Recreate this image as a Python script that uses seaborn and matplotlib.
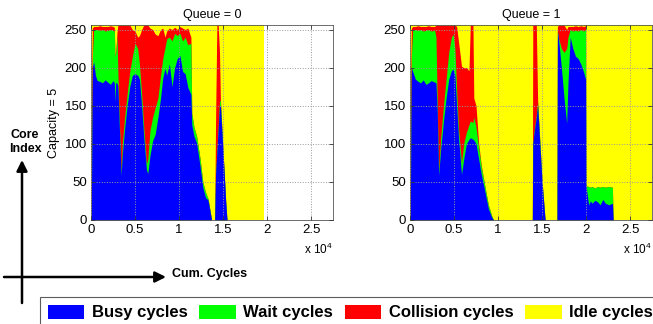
import matplotlib
matplotlib.use("Agg")
import matplotlib.pyplot as plt
from matplotlib.patches import Patch
from matplotlib.ticker import FuncFormatter, MultipleLocator
import numpy as np
import seaborn as sns

sns.set_theme(style="white")
plt.rcParams['font.family'] = ['Liberation Sans', 'DejaVu Sans']
plt.rcParams['mathtext.default'] = 'regular'

CORES = 256
state_labels = ['Busy cycles', 'Wait cycles', 'Collision cycles', 'Idle cycles']
state_colors = ['#0000ff', '#00ff00', '#ff0000', '#ffff00']

# Queue = 0 : cumulative cycles and the upper edge (in cores) of each state band
q0_cycles = [0, 60, 150, 300, 500, 700, 1000, 1300, 1600, 1900, 2200, 2500, 2650,
             2720, 2800, 2950, 3050, 3150, 3300, 3420, 3550, 3800, 4100, 4400,
             4700, 5000, 5300, 5500, 5750, 6000, 6300, 6450, 6700, 7000, 7300,
             7600, 7900, 8150, 8400, 8600, 8900, 9200, 9500, 9800, 10100, 10400,
             10700, 11000, 11350, 11450, 11700, 12000, 12400, 12700, 13000,
             13300, 13700, 14050, 14150, 14300, 14450, 14600, 14700, 15000,
             15300, 15450, 19700]
q0_busy = [0, 50, 200, 208, 190, 183, 182, 180, 184, 181, 178, 183, 180,
           155, 180, 180, 175, 145, 95, 59, 85, 118, 150, 175,
           190, 192, 190, 185, 150, 108, 66, 61, 85, 104, 113,
           135, 160, 186, 199, 190, 205, 175, 200, 212, 216, 195,
           192, 174, 165, 125, 110, 101, 70, 43, 30,
           26, 0, 0, 60, 90, 120, 150, 150, 90,
           25, 0, 0]
q0_wait = [0, 50, 215, 250, 250, 250, 249, 250, 248, 249, 250, 249, 248,
           215, 218, 242, 195, 155, 105, 62, 100, 132, 165, 195,
           215, 232, 225, 205, 165, 120, 74, 80, 118, 135, 148,
           160, 190, 212, 226, 238, 240, 235, 245, 242, 245, 235,
           240, 230, 232, 140, 122, 110, 80, 50, 37,
           28, 0, 0, 60, 92, 122, 155, 158, 90,
           25, 0, 0]
q0_coll = [120, 170, 252, 254, 254, 254, 255, 254, 254, 254, 255, 254, 253,
           216, 220, 246, 256, 256, 256, 256, 256, 256, 256, 256,
           250, 248, 240, 242, 250, 256, 256, 256, 252, 250, 244,
           242, 250, 252, 240, 248, 252, 250, 253, 250, 254, 252,
           250, 252, 240, 140, 122, 110, 80, 50, 37,
           28, 0, 0, 128, 256, 256, 220, 160, 90,
           25, 0, 0]

# Queue = 1
q1_cycles = [0, 60, 150, 300, 600, 900, 1200, 1500, 1800, 2100, 2400, 2800,
             2950, 3100, 3250, 3500, 3800, 4100, 4400, 4700, 4900, 5100, 5300,
             5500, 5850, 6100, 6400, 6700, 6850, 7150, 7250, 7500, 7800, 8100,
             8500, 8900, 9300, 9500, 13900, 13950, 14100, 14350, 14500, 14700,
             15000, 15350, 16700, 16750, 16900, 17200, 17500, 17800, 17950,
             18200, 18500, 18800, 19100, 19400, 19700, 19950, 20000, 20300,
             20500, 20700, 21000, 21300, 21600, 21900, 22200, 22600, 23000,
             23080, 27500]
q1_busy = [0, 50, 200, 195, 185, 182, 180, 184, 178, 180, 183, 181,
           180, 140, 59, 95, 130, 160, 185, 196, 198, 190, 150,
           110, 60, 80, 100, 106, 108, 106, 105, 100, 80, 60,
           38, 15, 3, 0, 0, 100, 115, 135, 150, 110,
           50, 0, 0, 248, 235, 200, 160, 127, 180,
           240, 225, 215, 212, 205, 195, 185, 45, 20,
           25, 22, 26, 24, 20, 27, 22, 20, 22,
           0, 0]
q1_wait = [0, 50, 215, 250, 250, 249, 250, 248, 249, 250, 248, 249,
           240, 150, 65, 110, 150, 185, 220, 240, 244, 225, 170,
           122, 75, 100, 115, 125, 130, 128, 135, 122, 95, 70,
           45, 20, 5, 0, 0, 100, 117, 138, 155, 115,
           52, 0, 0, 248, 238, 225, 220, 225, 240,
           250, 248, 249, 248, 250, 248, 250, 45, 44,
           43, 44, 42, 44, 43, 44, 43, 44, 43,
           0, 0]
q1_coll = [120, 170, 252, 254, 254, 255, 254, 254, 254, 255, 254, 254,
           256, 256, 256, 256, 256, 256, 256, 256, 256, 256, 254,
           235, 202, 200, 200, 196, 256, 256, 160, 150, 100, 72,
           45, 20, 5, 0, 0, 256, 256, 256, 158, 115,
           52, 0, 0, 254, 256, 256, 256, 250, 254,
           254, 254, 255, 254, 255, 254, 255, 45, 44,
           43, 44, 42, 44, 43, 44, 43, 44, 43,
           0, 0]

panels = [
    ('Queue = 0', q0_cycles, q0_busy, q0_wait, q0_coll),
    ('Queue = 1', q1_cycles, q1_busy, q1_wait, q1_coll),
]

fig = plt.figure(figsize=(6.53, 3.24), dpi=100)
axes = [fig.add_axes([0.1394, 0.321, 0.3706, 0.6019]),
        fig.add_axes([0.6279, 0.321, 0.3706, 0.6019])]

for ax, (title, cyc, busy, wait, coll) in zip(axes, panels):
    cyc = np.array(cyc, dtype=float)
    idle = np.full_like(cyc, CORES)
    # each band drawn from zero, top band first, so neighbours share edges cleanly
    for top, color in zip([idle, coll, wait, busy], state_colors[::-1]):
        ax.fill_between(cyc, 0, top, color=color, linewidth=0, zorder=1)
    ax.set_xlim(0, 27500)
    ax.set_ylim(0, CORES)
    ax.xaxis.set_major_locator(MultipleLocator(5000))
    ax.yaxis.set_major_locator(MultipleLocator(50))
    ax.xaxis.set_major_formatter(FuncFormatter(lambda v, p: f"{v / 1e4:g}"))
    ax.grid(True, color='#9a9a9a', linestyle=':', linewidth=0.7)
    ax.set_axisbelow(False)
    ax.tick_params(direction='in', length=3, width=0.6, labelsize=9.5, pad=3,
                   bottom=True, left=True, top=True, right=True,
                   colors='#333333', labelcolor='black')
    for sp in ax.spines.values():
        sp.set_color('#555555')
        sp.set_linewidth(0.6)
    ax.set_title(title, fontsize=9, pad=5, color='black')
    ax.text(1.0, -0.11, r'x 10$^4$', transform=ax.transAxes,
            ha='right', va='top', fontsize=8.5, color='black')

axes[0].set_ylabel('Capacity = 5', fontsize=9, labelpad=3, color='black')

# hand-drawn style axis arrows on the left
ov = fig.add_axes([0, 0, 1, 1])
ov.set_xlim(0, 653)
ov.set_ylim(324, 0)
ov.axis('off')
arrow = dict(arrowstyle='-|>', color='black', lw=1.8, mutation_scale=16,
             shrinkA=0, shrinkB=0)
ov.annotate('', xy=(22, 160), xytext=(22, 303), arrowprops=arrow)
ov.annotate('', xy=(166, 277), xytext=(4, 277), arrowprops=arrow)
ov.text(25, 142, 'Core\nIndex', ha='center', va='center', fontsize=9,
        fontweight='bold', linespacing=1.15, color='black')
ov.text(172, 274, 'Cum. Cycles', ha='left', va='center', fontsize=9,
        fontweight='bold', color='black')

handles = [Patch(facecolor=c, edgecolor='none') for c in state_colors]
leg = fig.legend(handles, state_labels, loc='upper left',
                 bbox_to_anchor=(40 / 653, 1 - 297 / 324), ncol=4,
                 frameon=True, fancybox=False, edgecolor='#333333',
                 prop=dict(weight='bold', size=12), handlelength=2.2,
                 handleheight=0.95, handletextpad=0.45, columnspacing=0.7,
                 borderpad=0.45, borderaxespad=0)
leg.get_frame().set_linewidth(0.8)
for t in leg.get_texts():
    t.set_color('black')

fig.savefig('out.png', dpi=100)
